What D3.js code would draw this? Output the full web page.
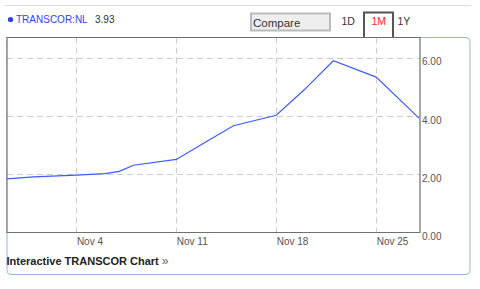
<!DOCTYPE html>
<html>
<head>
<meta charset="utf-8">
<script src="https://cdn.jsdelivr.net/npm/d3@7"></script>
<style>
  body { margin: 0; background: #fff; }
  svg { display: block; font-family: Arial, "Liberation Sans", sans-serif; }
</style>
</head>
<body>
<svg width="480" height="289"></svg>
<script>
// TRANSCOR:NL one month price line

var dates = ["2013-10-30", "2013-11-01", "2013-11-04", "2013-11-06", "2013-11-07", "2013-11-08",
             "2013-11-11", "2013-11-13", "2013-11-15", "2013-11-18", "2013-11-20", "2013-11-22",
             "2013-11-25", "2013-11-28"];
var prices = [1.84, 1.91, 1.97, 2.02, 2.10, 2.31, 2.51, 3.09, 3.67, 4.03, 4.92, 5.90, 5.34, 3.93];
var xTicks = ["2013-11-04", "2013-11-11", "2013-11-18", "2013-11-25"];
var yTicks = [0, 2, 4, 6];
var ranges = ["1D", "1M", "1Y"];

var parse = d3.timeParse("%Y-%m-%d");
var data = dates.map((d, i) => ({date: parse(d), value: prices[i]}));

// plot box (don't call these top/left: window.top is taken)
var plotL = 7, plotR = 420, plotT = 37.5, plotB = 232.5;

var svg = d3.select("svg");

var xScale = d3.scaleTime()
                .domain([parse("2013-10-30"), parse("2013-11-28")])
                .range([5, 419]);
var yScale = d3.scaleLinear()
                .domain([0, 6.7])
                .range([plotB, plotT]);

// header rule
svg.append("line")
    .attr("x1", 5).attr("x2", 471)
    .attr("y1", 5.5).attr("y2", 5.5)
    .attr("stroke", "#dddddd");

// symbol + last price
svg.append("circle")
    .attr("cx", 10.5).attr("cy", 19.5).attr("r", 2.6)
    .attr("fill", "#2f3ff0");
svg.append("text")
    .attr("x", 16).attr("y", 23)
    .attr("font-size", 10)
    .attr("fill", "#2f3ff0")
    .text("TRANSCOR:NL");
svg.append("text")
    .attr("x", 95).attr("y", 23)
    .attr("font-size", 10)
    .attr("fill", "#333")
    .text(prices[prices.length - 1].toFixed(2));

// compare box
svg.append("rect")
    .attr("x", 251).attr("y", 13.5)
    .attr("width", 79).attr("height", 17)
    .attr("fill", "#eeeeee")
    .attr("stroke", "#bbbbbb")
    .attr("stroke-width", 2);
svg.append("text")
    .attr("x", 253).attr("y", 26.5)
    .attr("font-size", 11.5)
    .attr("fill", "#333")
    .text("Compare");

// outer blue frame
svg.append("rect")
    .attr("x", 7).attr("y", 37.5)
    .attr("width", 463).attr("height", 237)
    .attr("rx", 4)
    .attr("fill", "none")
    .attr("stroke", "#9db4da");

// range tabs
svg.append("path")
    .attr("d", "M364,37.5 V12.5 H393 V37.5")
    .attr("fill", "#fff")
    .attr("stroke", "#555")
    .attr("stroke-width", 2);
var tabX = [341.5, 371.5, 397.5];
svg.selectAll(".tab")
    .data(ranges)
    .enter()
    .append("text")
      .attr("class", "tab")
      .attr("x", (d, i) => tabX[i])
      .attr("y", 25)
      .attr("font-size", 10.5)
      .attr("fill", d => d === "1M" ? "#ff2a1a" : "#333")
      .text(d => d);

// plot background
svg.append("rect")
    .attr("x", plotL).attr("y", plotT)
    .attr("width", plotR - plotL).attr("height", plotB - plotT)
    .attr("fill", "#fff");

// grid
svg.selectAll(".vgrid")
    .data(xTicks)
    .enter()
    .append("line")
      .attr("class", "vgrid")
      .attr("x1", d => Math.round(xScale(parse(d))) + 0.5)
      .attr("x2", d => Math.round(xScale(parse(d))) + 0.5)
      .attr("y1", plotT).attr("y2", plotB)
      .attr("stroke", "#cccccc")
      .attr("stroke-dasharray", "6,4");
svg.selectAll(".hgrid")
    .data(yTicks.slice(1))
    .enter()
    .append("line")
      .attr("class", "hgrid")
      .attr("x1", plotL).attr("x2", plotR)
      .attr("y1", d => Math.round(yScale(d)) + 0.5)
      .attr("y2", d => Math.round(yScale(d)) + 0.5)
      .attr("stroke", "#cccccc")
      .attr("stroke-dasharray", "6,4");

// price line
svg.append("clipPath")
    .attr("id", "plot")
    .append("rect")
      .attr("x", plotL).attr("y", plotT)
      .attr("width", plotR - plotL).attr("height", plotB - plotT);

var line = d3.line()
    .x(d => xScale(d.date))
    .y(d => yScale(d.value));

svg.append("path")
    .datum(data)
    .attr("clip-path", "url(#plot)")
    .attr("d", line)
    .attr("fill", "none")
    .attr("stroke", "#3d5cff")
    .attr("stroke-width", 1.2);

// plot frame
svg.append("path")
    .attr("d", "M" + plotL + "," + plotT + " H" + plotR + " V" + plotB + " H" + plotL + " Z")
    .attr("fill", "none")
    .attr("stroke", "#707070")
    .attr("stroke-width", 1.2);

// tick labels
svg.selectAll(".ylab")
    .data(yTicks)
    .enter()
    .append("text")
      .attr("class", "ylab")
      .attr("x", 422)
      .attr("y", d => yScale(d) + 7.5)
      .attr("font-size", 10)
      .attr("fill", "#555")
      .text(d => d.toFixed(2));

svg.selectAll(".xlab")
    .data(xTicks)
    .enter()
    .append("text")
      .attr("class", "xlab")
      .attr("x", d => xScale(parse(d)) + 0.5)
      .attr("y", 245)
      .attr("font-size", 10)
      .attr("fill", "#555")
      .text(d => d3.timeFormat("%b %-d")(parse(d)));

// footer link
var foot = svg.append("text")
    .attr("x", 6.5).attr("y", 265)
    .attr("font-size", 11)
    .attr("font-weight", "bold")
    .attr("fill", "#222");
foot.append("tspan").text("Interactive TRANSCOR Chart ");
foot.append("tspan").attr("fill", "#666").attr("font-weight", "normal").attr("font-size", 12).text("»");
</script>
</body>
</html>
